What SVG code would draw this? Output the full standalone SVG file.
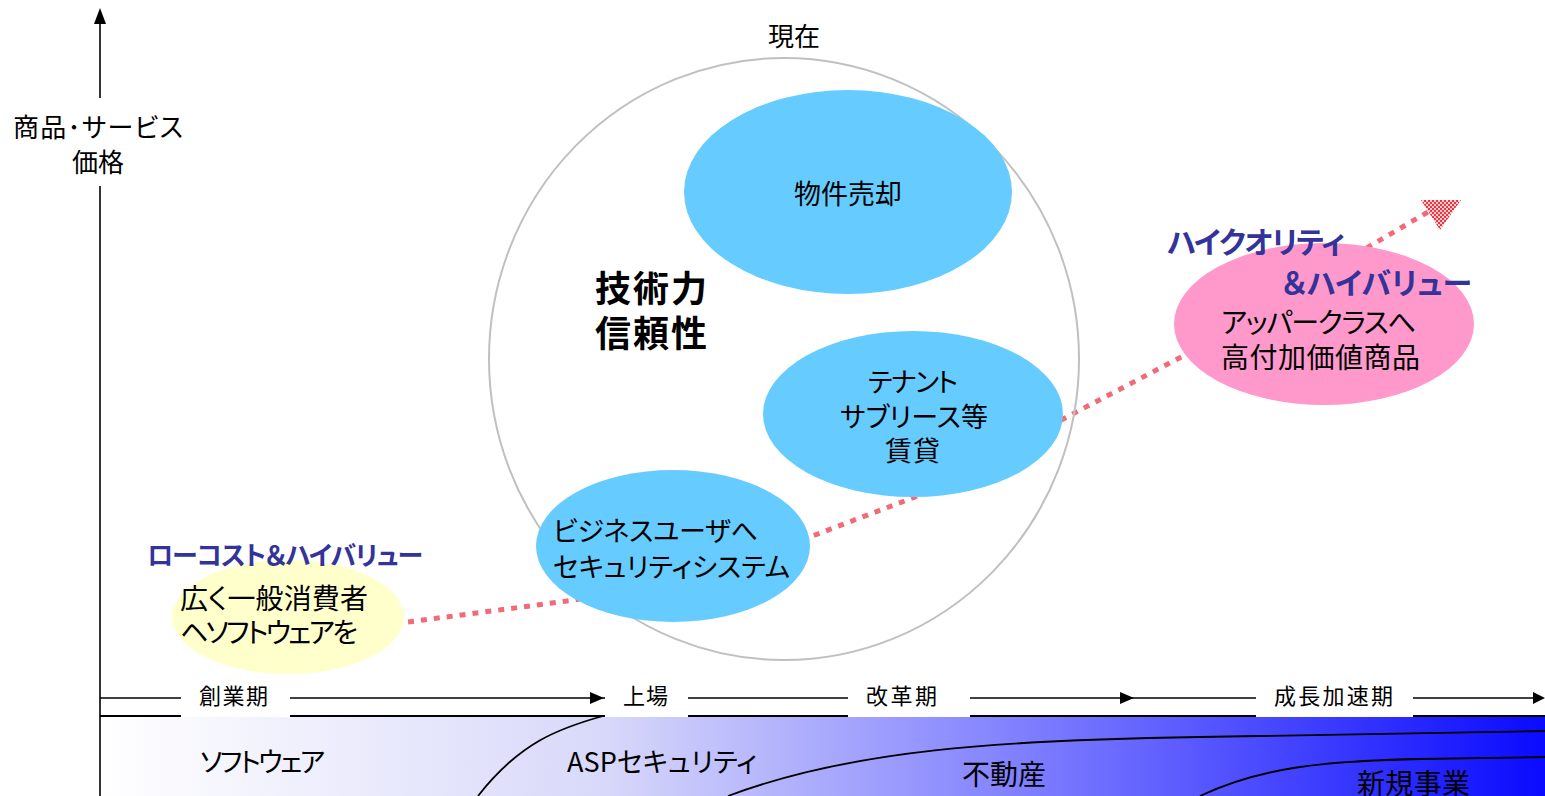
<svg xmlns="http://www.w3.org/2000/svg" width="1545" height="796" viewBox="0 0 1545 796">
<style>
.t{font-family:"Noto Sans CJK JP","Noto Sans CJK SC",sans-serif;fill:#000;font-feature-settings:"palt"}
.hl{font-weight:bold;fill:#333399}
.blue{fill:#66ccff}
.ax{stroke:#000;stroke-width:1.6;fill:none}
.crv{stroke:#000;stroke-width:1.8;fill:none}
.dot{stroke:#f26a78;stroke-width:5;stroke-dasharray:6 7;fill:none}
.wb{fill:#fff}
</style>
<defs>
<linearGradient id="band" x1="0" y1="0" x2="1" y2="0">
<stop offset="0" stop-color="#ffffff"/>
<stop offset="0.35" stop-color="#d8d8fa"/>
<stop offset="0.62" stop-color="#8585ff"/>
<stop offset="1" stop-color="#0a0aff"/>
</linearGradient>
<pattern id="hatch" width="4" height="4" patternUnits="userSpaceOnUse">
<rect width="4" height="4" fill="#ffd0d0"/>
<rect width="2" height="2" fill="#ee3344"/>
<rect x="2" y="2" width="2" height="2" fill="#ee3344"/>
</pattern>
</defs>

<g id="band-area">
<rect x="100" y="716" width="1445" height="80" fill="url(#band)"/>
<line x1="100" y1="716" x2="1545" y2="716" stroke="#000" stroke-width="2"/>
<path class="crv" d="M603,716 C560,728 520,742 478,796"/>
<path class="crv" d="M728,796 C850,750 1000,740 1200,737 S1545,731 1545,731"/>
<path class="crv" d="M1200,796 C1260,768 1320,761 1420,759 L1545,757"/>
<text class="t" x="200" y="772" font-size="27" textLength="125">ソフトウェア</text>
<text class="t" x="567" y="772" font-size="27" textLength="190">ASPセキュリティ</text>
<text class="t" x="962" y="785" font-size="28" textLength="84">不動産</text>
<text class="t" x="1357" y="794" font-size="28" textLength="113">新規事業</text>
</g>

<g id="connectors">
<line class="ax" x1="100" y1="22" x2="100" y2="98"/>
<line class="ax" x1="100" y1="186" x2="100" y2="796"/>
<polygon points="100,8 94,24 106,24" fill="#000"/>
<line class="ax" x1="100" y1="698" x2="1537" y2="698"/>
<polygon points="604,698 590,692 590,704" fill="#000"/>
<polygon points="1134,698 1120,692 1120,704" fill="#000"/>
<polygon points="1545,698 1533,692 1533,704" fill="#000"/>
<path class="dot" d="M408,622 L575,600 L700,570 L815,535 L915,497 L1065,418 L1185,355 L1280,300 L1375,243 L1428,212"/>
<polygon points="1421,200 1461,200 1440,230" fill="url(#hatch)"/>
</g>

<g id="timeline-labels">
<rect class="wb" x="181" y="681" width="109" height="36"/>
<text class="t" x="199" y="704" font-size="22" textLength="69">創業期</text>
<rect class="wb" x="605" y="681" width="83" height="36"/>
<text class="t" x="623" y="704" font-size="22" textLength="45">上場</text>
<rect class="wb" x="848" y="681" width="122" height="36"/>
<text class="t" x="866" y="704" font-size="22" textLength="71">改革期</text>
<rect class="wb" x="1256" y="681" width="157" height="36"/>
<text class="t" x="1274" y="704" font-size="22" textLength="119">成長加速期</text>
</g>

<g id="y-axis-label">
<text class="t" x="13" y="137" font-size="26" textLength="170">商品･サービス</text>
<text class="t" x="98" y="172" font-size="26" text-anchor="middle">価格</text>
</g>

<g id="current">
<ellipse cx="784" cy="359" rx="295" ry="301" fill="none" stroke="#c0c0c0" stroke-width="2"/>
<text class="t" x="794" y="46" font-size="26" text-anchor="middle">現在</text>
<text class="t" x="595" y="302" font-size="36" font-weight="bold" textLength="112">技術力</text>
<text class="t" x="595" y="347" font-size="36" font-weight="bold" textLength="112">信頼性</text>
</g>

<g id="node-bukken">
<ellipse class="blue" cx="848" cy="192" rx="164" ry="102"/>
<text class="t" x="848" y="204" font-size="27" text-anchor="middle">物件売却</text>
</g>

<g id="node-tenant">
<ellipse class="blue" cx="913" cy="414" rx="150" ry="83"/>
<text class="t" x="868" y="392" font-size="27" textLength="90">テナント</text>
<text class="t" x="840" y="427" font-size="27" textLength="148">サブリース等</text>
<text class="t" x="885" y="461" font-size="27" textLength="55">賃貸</text>
</g>

<g id="node-business">
<ellipse class="blue" cx="673" cy="546" rx="137" ry="76"/>
<text class="t" x="553" y="541" font-size="27" textLength="205">ビジネスユーザへ</text>
<text class="t" x="553" y="577" font-size="27" textLength="237">セキュリティシステム</text>
</g>

<g id="node-consumer">
<ellipse cx="288" cy="617" rx="116" ry="57" fill="#ffffcc"/>
<text class="t hl" x="147" y="565" font-size="26" textLength="276">ローコスト＆ハイバリュー</text>
<text class="t" x="180" y="609" font-size="28" textLength="188">広く一般消費者</text>
<text class="t" x="180" y="643" font-size="28" textLength="178">ヘソフトウェアを</text>
</g>

<g id="node-upper">
<ellipse cx="1324" cy="324" rx="150" ry="81" fill="#ff99cc"/>
<text class="t hl" x="1167" y="253" font-size="30" textLength="178">ハイクオリティ</text>
<text class="t hl" x="1282" y="294" font-size="30" textLength="190">＆ハイバリュー</text>
<text class="t" x="1221" y="333" font-size="28" textLength="195">アッパークラスへ</text>
<text class="t" x="1221" y="368" font-size="28" textLength="199">高付加価値商品</text>
</g>
</svg>
